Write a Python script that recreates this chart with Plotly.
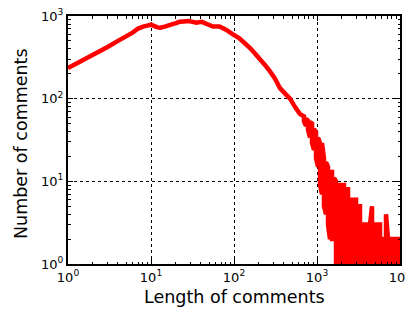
import plotly.graph_objects as go

# Smooth (head) part of the distribution: comment length -> number of comments
head_lengths = [1, 2, 3, 4, 5, 6, 7, 8, 9, 10, 11, 12, 13, 15, 17, 20, 22, 25, 28, 32, 35,
                41, 47, 56, 67, 81, 97, 115, 136, 156, 178, 205, 236, 270, 311, 358,
                410, 473, 545, 624]
head_counts = [234, 340, 422, 500, 567, 630, 705, 745, 765, 785, 755, 728, 722, 750, 780, 820,
               850, 860, 870, 850, 830, 850, 800, 745, 745, 680, 600, 540, 465, 410, 355,
               300, 256, 215, 176, 134, 116, 100, 79, 65]

# Noisy tail: at each length, the high and low counts seen in the jagged band
tail_lengths = [697, 737, 779, 823, 871, 920, 973, 1028, 1087, 1149, 1214, 1283, 1357,
                1434, 1516, 1603, 1694, 1791, 1893, 2001, 2115, 2236, 2363, 2498, 2641,
                2791, 2951, 3119, 3297, 3485, 3684, 3895, 4117, 4352, 4600, 4863, 5140,
                5433, 5743, 6071, 6418, 6784, 7171, 7580, 8013, 8470, 8954, 9465, 10000]
tail_high = [61, 57, 54, 52, 50, 43, 39, 34, 29, 29, 19, 17, 15, 13, 13, 11, 10, 9, 9, 9,
             9, 8, 8, 6, 6, 6, 6, 5, 5, 3, 3, 3, 3, 3, 5, 3, 3, 3, 3, 2, 2, 4, 2, 2, 2, 2,
             2, 2, 2]
tail_low = [53, 47, 42, 34, 29, 24, 19, 15, 9, 7, 5, 4, 3, 2, 2, 2, 1, 1, 1, 1, 1, 1, 1,
            1, 1, 1, 1, 1, 1, 1, 1, 1, 1, 1, 1, 1, 1, 1, 1, 1, 1, 1, 1, 1, 1, 1, 1, 1, 1]

x_ticks = [1, 10, 100, 1000, 10000]
x_tick_text = ["10<sup>0</sup>", "10<sup>1</sup>", "10<sup>2</sup>", "10<sup>3</sup>", "10<sup>4</sup>"]
y_ticks = [1, 10, 100, 1000]
y_tick_text = ["10<sup>0</sup>", "10<sup>1</sup>", "10<sup>2</sup>", "10<sup>3</sup>"]
x_minor = [m * 10 ** d for d in range(4) for m in range(2, 10)]
y_minor = [m * 10 ** d for d in range(3) for m in range(2, 10)]

x_title = "Length of comments"
y_title = "Number of comments"

# Build the line: smooth head followed by a square-wave sweep through the tail band
xs = list(head_lengths)
ys = list(head_counts)
for i, (L, hi, lo) in enumerate(zip(tail_lengths, tail_high, tail_low)):
    xs += [L, L]
    ys += [hi, lo] if i % 2 == 0 else [lo, hi]

font = "DejaVu Sans, sans-serif"

fig = go.Figure()
fig.add_trace(go.Scatter(x=xs, y=ys, mode="lines",
                         line=dict(color="#ff0000", width=4.5, simplify=False),
                         showlegend=False, hoverinfo="skip"))
# invisible trace on the overlay axes carrying the minor ticks
fig.add_trace(go.Scatter(x=[1, 10000], y=[1, 1000], mode="markers", marker=dict(opacity=0),
                         xaxis="x2", yaxis="y2", showlegend=False, hoverinfo="skip"))

axis_common = dict(
    type="log", automargin=False, ticklabeloverflow="allow",
    showline=True, linecolor="black", linewidth=2, mirror="all",
    ticks="inside", ticklen=5, tickcolor="black", tickwidth=1,
    showgrid=True, gridcolor="black", gridwidth=1, griddash="dot",
    zeroline=False,
    tickfont=dict(family=font, size=13, color="black"),
)
minor_common = dict(
    type="log", automargin=False, showline=False, mirror="ticks",
    ticks="inside", ticklen=2.5, tickcolor="black", tickwidth=1,
    showgrid=False, zeroline=False, showticklabels=False,
)

fig.update_layout(
    width=406, height=312,
    margin=dict(l=68, r=6, t=16, b=48),
    plot_bgcolor="white", paper_bgcolor="white",
    xaxis=dict(range=[0, 4], tickvals=x_ticks, ticktext=x_tick_text, **axis_common),
    yaxis=dict(range=[0, 3], tickvals=y_ticks, ticktext=y_tick_text, **axis_common),
    xaxis2=dict(range=[0, 4], tickvals=x_minor, overlaying="x", anchor="y2", **minor_common),
    yaxis2=dict(range=[0, 3], tickvals=y_minor, overlaying="y", anchor="x2", **minor_common),
    annotations=[
        dict(text=x_title, xref="paper", yref="paper", x=0.5, y=-0.133,
             xanchor="center", yanchor="middle", showarrow=False,
             font=dict(family=font, size=17.5, color="black")),
        dict(text=y_title, xref="paper", yref="paper", x=-0.14, y=0.486, textangle=-90,
             xanchor="center", yanchor="middle", showarrow=False,
             font=dict(family=font, size=17.5, color="black")),
    ],
)

fig.write_html("out.html", config={"displayModeBar": False},
               post_script="document.body.style.margin='0px';document.body.style.overflow='hidden';")
